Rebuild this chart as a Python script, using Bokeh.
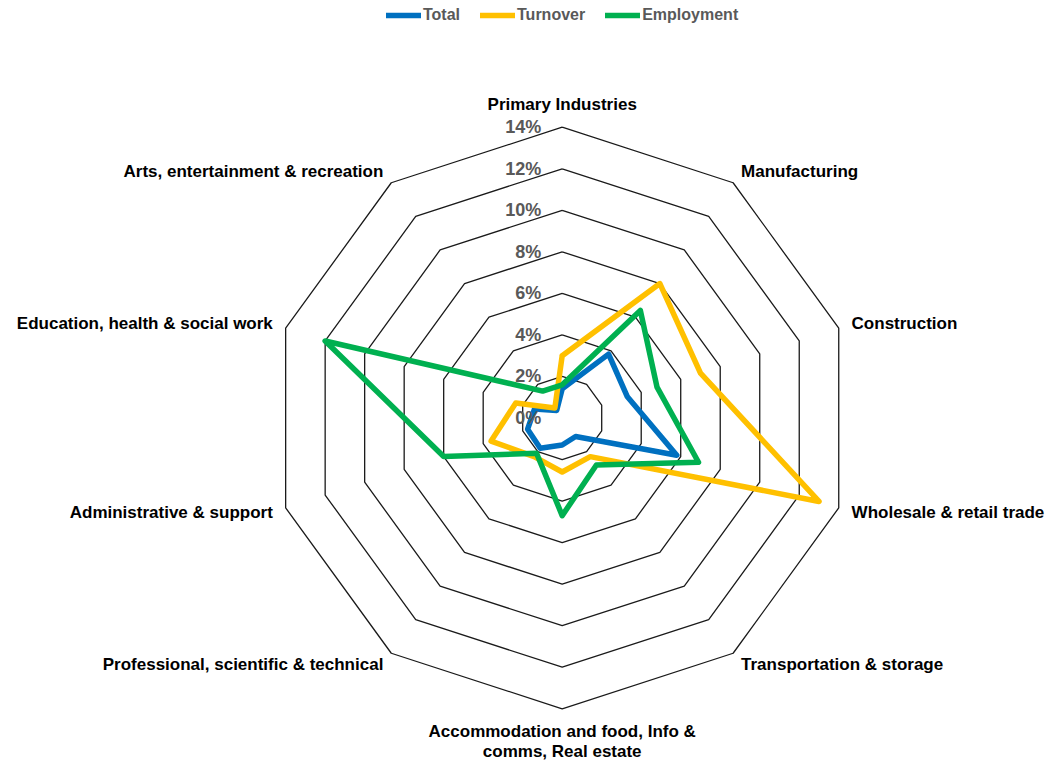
import numpy as np
from bokeh.plotting import figure
from bokeh.models import Range1d, ColumnDataSource, Legend, LegendItem
from bokeh.core.properties import value
from bokeh.embed import file_html
from bokeh.resources import INLINE

categories = [
    "Primary Industries",
    "Manufacturing",
    "Construction",
    "Wholesale & retail trade",
    "Transportation & storage",
    "Accommodation and food, Info &\ncomms, Real estate",
    "Professional, scientific & technical",
    "Administrative & support",
    "Education, health & social work",
    "Arts, entertainment & recreation",
]
total = [1.4, 3.8, 3.3, 5.8, 1.1, 1.3, 1.8, 1.75, 1.4, 0.45]
turnover = [3.0, 8.0, 7.0, 13.0, 2.3, 2.6, 2.3, 3.6, 2.35, 0.6]
employment = [1.6, 6.4, 4.8, 6.9, 2.8, 4.7, 2.1, 6.0, 12.0, 1.6]
ticks = [0, 2, 4, 6, 8, 10, 12, 14]
tick_labels = ["0%", "2%", "4%", "6%", "8%", "10%", "12%", "14%"]

series = [("Total", total, "#0070C0"), ("Turnover", turnover, "#FFC000"), ("Employment", employment, "#00B050")]

FONT = "Liberation Sans"
W, H = 1048, 761
px = 20.77  # pixels per percent
cx, cy = 561.7, 417.5  # centre in figure pixels (from top-left)

n = len(categories)
theta = np.arange(n) * 2 * np.pi / n


def polar(r):
    r = np.asarray(r, dtype=float)
    return r * np.sin(theta), r * np.cos(theta)


p = figure(width=W, height=H,
           x_range=Range1d(-cx / px, (W - cx) / px),
           y_range=Range1d(-(H - cy) / px, cy / px),
           output_backend="svg", toolbar_location=None, min_border=0,
           x_axis_location=None, y_axis_location=None)
p.grid.visible = False
p.outline_line_color = None
p.background_fill_color = "white"
p.border_fill_color = "white"

# grid decagons
for t in ticks[1:]:
    gx, gy = polar([t] * n)
    p.line(list(gx) + [gx[0]], list(gy) + [gy[0]], line_color="#1a1a1a", line_width=1.3)

# series
items = []
for name, vals, col in series:
    sx, sy = polar(vals)
    r = p.line(list(sx) + [sx[0]], list(sy) + [sy[0]], line_color=col, line_width=5.5,
               line_join="round", line_cap="round")
    items.append(LegendItem(label=name, renderers=[r]))

# tick labels
p.text(x=[0] * len(ticks), y=ticks, text=tick_labels, x_offset=-21,
       text_align="right", text_baseline="middle",
       text_font=value(FONT), text_font_style="bold", text_font_size="18px",
       text_color="#595959")

# category labels
R = 14.65
lx, ly = polar([R] * n)
aligns, bases = [], []
for th in theta:
    s, c = np.sin(th), np.cos(th)
    if s > 0.1:
        aligns.append("left"); bases.append("middle")
    elif s < -0.1:
        aligns.append("right"); bases.append("middle")
    else:
        aligns.append("center"); bases.append("bottom" if c > 0 else "top")
src = ColumnDataSource(dict(x=lx, y=ly, text=categories, align=aligns, base=bases))
p.text(x="x", y="y", text="text", source=src, text_align="align", text_baseline="base",
       text_font=value(FONT), text_font_style="bold", text_font_size="17px",
       text_color="black", text_line_height=1.02)

legend = Legend(items=items, orientation="horizontal", location=(386, 736),
                glyph_width=35, glyph_height=20, label_standoff=2, spacing=20,
                padding=0, margin=0, border_line_color=None, background_fill_alpha=0,
                label_text_font=FONT, label_text_font_style="bold",
                label_text_font_size="16px", label_text_color="#595959")
p.add_layout(legend)

open("out.html", "w").write(file_html(p, INLINE))
